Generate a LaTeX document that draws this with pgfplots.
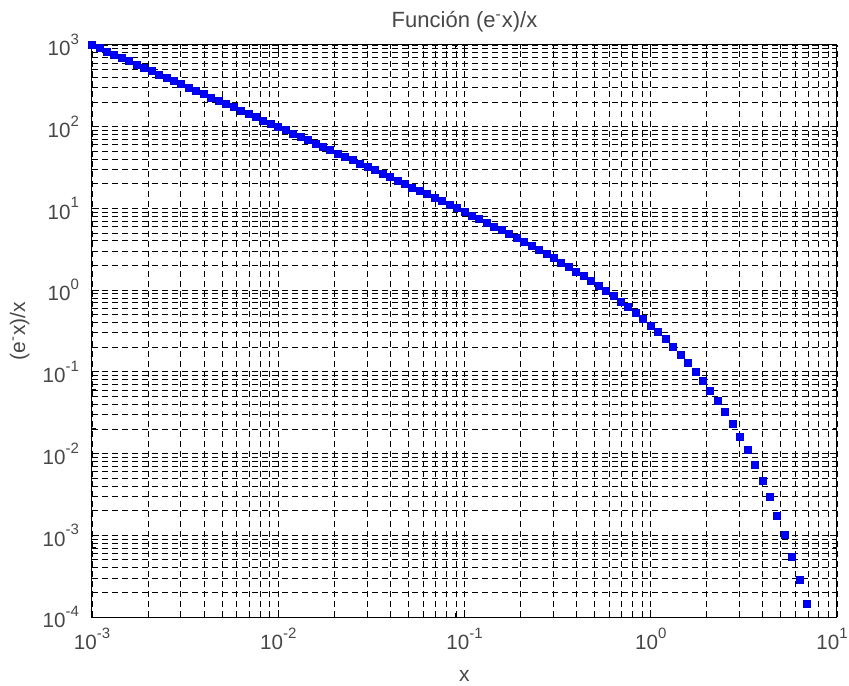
\documentclass[border=0pt]{standalone}
\usepackage{pgfplots}
\pgfplotsset{compat=1.18}
\usepackage{pgfplotstable}
\usepackage{fontspec}
\setmainfont{Liberation Sans}

% Samples of f(x) = exp(-x)/x on a logarithmic grid, 0.04 decades apart
\pgfplotstableread{
x          y
0.00100000 999.0
0.00109648 911.0
0.00120226 830.8
0.00131826 757.6
0.00144544 690.8
0.00158489 630.0
0.00173780 574.4
0.00190546 523.8
0.00208930 477.6
0.00229087 435.5
0.00251189 397.1
0.00275423 362.1
0.00301995 330.1
0.00331131 301.0
0.00363078 274.4
0.00398107 250.2
0.00436516 228.1
0.00478630 207.9
0.00524807 189.5
0.00575440 172.8
0.00630957 157.5
0.00691831 143.5
0.00758578 130.8
0.00831764 119.2
0.00912011 108.6
0.0100000 99.00
0.0109648 90.20
0.0120226 82.18
0.0131826 74.86
0.0144544 68.19
0.0158489 62.10
0.0173780 56.55
0.0190546 51.49
0.0208930 46.87
0.0229087 42.66
0.0251189 38.82
0.0275423 35.32
0.0301995 32.13
0.0331131 29.22
0.0363078 26.56
0.0398107 24.14
0.0436516 21.93
0.0478630 19.92
0.0524807 18.08
0.0575440 16.41
0.0630957 14.88
0.0691831 13.49
0.0758578 12.22
0.0831764 11.06
0.0912011 10.01
0.100000 9.048
0.109648 8.173
0.120226 7.375
0.131826 6.649
0.144544 5.987
0.158489 5.385
0.173780 4.836
0.190546 4.338
0.208930 3.884
0.229087 3.472
0.251189 3.097
0.275423 2.757
0.301995 2.448
0.331131 2.169
0.363078 1.916
0.398107 1.687
0.436516 1.481
0.478630 1.295
0.524807 1.127
0.575440 0.9774
0.630957 0.8433
0.691831 0.7237
0.758578 0.6174
0.831764 0.5233
0.912011 0.4405
1.00000 0.3679
1.09648 0.3047
1.20226 0.2500
1.31826 0.2030
1.44544 0.1630
1.58489 0.1293
1.73780 0.1012
1.90546 0.07807
2.08930 0.05924
2.29087 0.04417
2.51189 0.03229
2.75423 0.02311
3.01995 0.01616
3.31131 0.01101
3.63078 0.007298
3.98107 0.004689
4.36516 0.002912
4.78630 0.001743
5.24807 0.001002
5.75440 0.0005507
6.30957 0.0002883
6.91831 0.0001430
}\datatable

% decade label with a raised exponent
\newcommand{\dec}[1]{10\raisebox{0.55em}{\fontsize{7.5}{8}\selectfont #1}}

\begin{document}
\begin{tikzpicture}
\begin{loglogaxis}[
  name=ax,
  scale only axis,
  width=372.5pt, height=286pt,
  xmin=1e-3, xmax=10,
  ymin=1e-4, ymax=1e3,
  xtick={1e-3,1e-2,1e-1,1,10},
  xticklabels={\dec{-3},\dec{-2},\dec{-1},\dec{0},\dec{1}\hspace*{5pt}},
  ytick={1e-4,1e-3,1e-2,1e-1,1,10,100,1000},
  yticklabels={\dec{-4},\dec{-3},\dec{-2},\dec{-1},\dec{0},\dec{1},\dec{2},\dec{3}},
  tick label style={font=\fontsize{10.3}{12}\selectfont, text=black!72},
  xticklabel style={anchor=center, yshift=-11pt},
  yticklabel style={anchor=east, xshift=-3pt},
  label style={font=\fontsize{10.5}{12}\selectfont, text=black!72},
  every axis title shift=0pt,
  title style={font=\fontsize{11}{13}\selectfont, text=black!72,
    at={(axis description cs:0.5,1.041)}, anchor=center, yshift=0pt},
  xlabel style={at={(axis description cs:0.5,-0.103)}, anchor=center},
  ylabel style={at={(axis description cs:-0.097,0.5)}, anchor=center},
  title={Función (e\textsuperscript{-}x)/x},
  xlabel={x},
  ylabel={(e\textsuperscript{-}x)/x},
  grid=both,
  major grid style={black, line width=0.45pt, dash pattern=on 3pt off 2pt},
  minor grid style={black, line width=0.45pt, dash pattern=on 3pt off 2pt},
  axis line style={black, line width=0.5pt},
  tick style={black, line width=0.5pt},
  major tick length=3.5pt,
  minor tick length=2pt,
  tick align=inside,
  clip=true,
]
\addplot[only marks, mark=square*, mark size=1.75pt, blue, mark options={fill=blue, draw=blue!85!black}] table[x=x, y=y] {\datatable};
\end{loglogaxis}
\pgfresetboundingbox
\path[use as bounding box] ([xshift=-46pt, yshift=-34pt]ax.south west) rectangle ([xshift=6pt, yshift=22.5pt]ax.north east);
\end{tikzpicture}
\end{document}
